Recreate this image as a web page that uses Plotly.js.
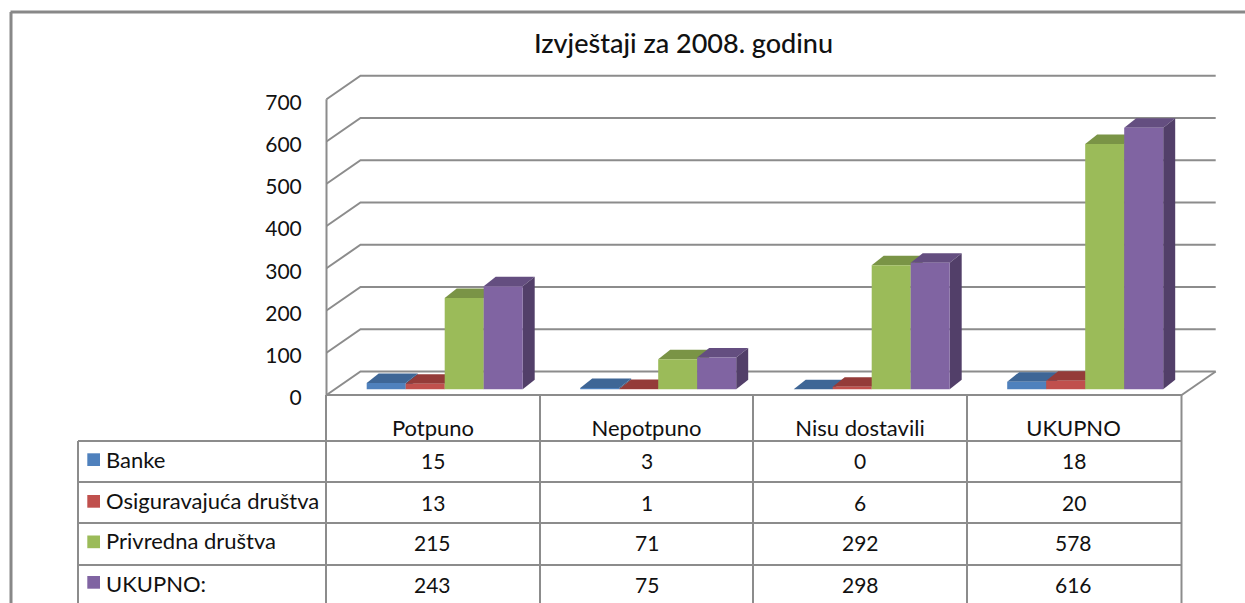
<!DOCTYPE html>
<html><head><meta charset="utf-8">
<script src="https://cdn.plot.ly/plotly-3.0.1.min.js"></script>
<style>html,body{margin:0;padding:0;background:#fff;overflow:hidden}</style></head>
<body><div id="chart" style="width:1245px;height:603px"></div>
<script>
const categories = ["Potpuno", "Nepotpuno", "Nisu dostavili", "UKUPNO"];
const seriesNames = ["Banke", "Osiguravajuća društva", "Privredna društva", "UKUPNO:"];
const banke = [15, 3, 0, 18];
const osiguravajuca = [13, 1, 6, 20];
const privredna = [215, 71, 292, 578];
const ukupno = [243, 75, 298, 616];
const yTicks = [0, 100, 200, 300, 400, 500, 600, 700];
const frontColors = ["#4F81BD", "#C0504D", "#9BBB59", "#8064A2"];
const topColors = ["#3E6696", "#943B39", "#7A9446", "#644E80"];
const sideColors = ["#375A85", "#823432", "#6B8239", "#523F69"];

const allSeries = [banke, osiguravajuca, privredna, ukupno];
const W = 1245, H = 603, FONT = "Lato, sans-serif", GRID = "#8C8C8C", TXT = "#111";
// plot rectangle in page pixels
const L = 320, R = 1228, T = 60, B = 402;
// category scale
const CAT0 = 433, CATW = 213.5;
// wall scale
const WALL0 = 395, WALLK = 0.4225, BACKX = 34, BACKY = 23.5;
// bar plane scale
const BAR0 = 389.3, BARK = 0.4245, DEPTHX = 12, DEPTHY = 9.5;
const BARW = 39 / CATW, BARSTART = (366.7 - CAT0) / CATW;
const dxU = DEPTHX / CATW, dyU = DEPTHY / BARK;
const backXU = BACKX / CATW, backYU = BACKY / WALLK;
const xAt = p => (p - CAT0) / CATW;
const px = p => p / W, py = p => 1 - p / H;

const shapes = [];
const lineShape = (x0, y0, x1, y1, w, c) => shapes.push({type: "line", layer: "below", xref: "paper", yref: "paper",
  x0: px(x0), y0: py(y0), x1: px(x1), y1: py(y1), line: {color: c || GRID, width: w || 2}});

// outer frame
lineShape(10.5, 12, W, 12, 3, "#888");
lineShape(11, 12, 11, H, 3, "#888");

// wall and floor, in axis units
const x0W = xAt(326.5), x1W = xAt(1181.7);
yTicks.forEach(v => {
  shapes.push({type: "path", layer: "below", xref: "x", yref: "y",
    path: `M${x0W},${v} L${x0W + backXU},${v + backYU} L${x1W + backXU},${v + backYU}`,
    line: {color: GRID, width: 2}});
});
shapes.push({type: "line", layer: "below", xref: "x", yref: "y", x0: x0W, x1: x0W, y0: 0, y1: 700, line: {color: GRID, width: 2}});
shapes.push({type: "line", layer: "below", xref: "x", yref: "y", x0: x1W, x1: x1W + backXU, y0: 0, y1: backYU, line: {color: GRID, width: 2}});

// table rules
const rows = [441, 482, 523, 565];
lineShape(326, 395, 1182, 395);
rows.forEach(r => lineShape(78, r, 1182, r));
lineShape(78, 441, 78, H);
[326, 540, 753, 967, 1181.5].forEach(c => lineShape(c, 395, c, H));

// 3D faces of the bars, derived from the values
allSeries.forEach((vals, s) => {
  vals.forEach((v, i) => {
    const a = i + BARSTART + s * BARW, b = a + BARW;
    shapes.push({type: "path", layer: "below", xref: "x", yref: "y2", line: {width: 0}, fillcolor: topColors[s],
      path: `M${a},${v} L${a + dxU},${v + dyU} L${b + dxU},${v + dyU} L${b},${v} Z`});
    shapes.push({type: "path", layer: "below", xref: "x", yref: "y2", line: {width: 0}, fillcolor: sideColors[s],
      path: `M${b},0 L${b + dxU},${dyU} L${b + dxU},${v + dyU} L${b},${v} Z`});
  });
});

// legend keys
const keyY = [453.3, 495, 535.5, 576];
frontColors.forEach((c, s) => shapes.push({type: "rect", layer: "below", xref: "paper", yref: "paper",
  x0: px(87.3), x1: px(100), y0: py(keyY[s]), y1: py(keyY[s] + 12.7), fillcolor: c, line: {width: 0}}));

// table text
const annotations = [];
const rowY = [460.5, 502, 542.5, 584.5];
const nameY = [459, 500, 540, 583];
const nameFont = {family: FONT, size: 22, color: TXT};
const numFont = {family: FONT, size: 21, color: TXT};
seriesNames.forEach((n, s) => {
  annotations.push({xref: "paper", yref: "paper", x: px(103.5), y: py(nameY[s]), text: n, showarrow: false, xanchor: "left", yanchor: "middle", font: nameFont});
  allSeries[s].forEach((v, i) => annotations.push({xref: "x", yref: "paper", x: i, y: py(rowY[s]), text: String(v), showarrow: false, xanchor: "center", yanchor: "middle", font: numFont}));
});

const traces = allSeries.map((vals, s) => ({
  type: "bar", name: seriesNames[s], x: [0, 1, 2, 3], y: vals, yaxis: "y2",
  width: BARW, offset: BARSTART + s * BARW,
  marker: {color: frontColors[s], line: {width: 0}}, showlegend: false, hoverinfo: "name+y"
}));
// keeps the wall axis on the same subplot
traces.unshift({type: "scatter", mode: "none", x: [0], y: [0], xaxis: "x", yaxis: "y", showlegend: false, hoverinfo: "skip"});

const layout = {
  width: W, height: H, margin: {l: 0, r: 0, t: 0, b: 0}, paper_bgcolor: "#fff", plot_bgcolor: "rgba(0,0,0,0)",
  showlegend: false, barmode: "overlay", shapes, annotations,
  title: {text: "Izvještaji za 2008. godinu", xref: "paper", yref: "paper", x: px(683.5), xanchor: "center", y: py(44), yanchor: "middle",
    font: {family: FONT, size: 27, weight: 500, color: TXT}, pad: {t: 0, b: 0, l: 0, r: 0}},
  xaxis: {domain: [px(L), px(R)], range: [xAt(L), xAt(R)], anchor: "y", tickmode: "array", tickvals: [0, 1, 2, 3], ticktext: categories,
    showgrid: false, zeroline: false, showline: false, ticks: "outside", ticklen: 7, tickcolor: "rgba(0,0,0,0)", tickangle: 0,
    tickfont: {family: FONT, size: 22, color: TXT}, fixedrange: true},
  yaxis: {domain: [py(B), py(T)], range: [(WALL0 - B) / WALLK, (WALL0 - T) / WALLK], anchor: "x", tickmode: "array", tickvals: yTicks,
    showgrid: false, zeroline: false, showline: false, ticks: "outside", ticklen: 13, tickcolor: "rgba(0,0,0,0)", ticklabelshift: 3,
    tickfont: {family: FONT, size: 21, color: TXT}, fixedrange: true},
  yaxis2: {domain: [py(B), py(T)], range: [(BAR0 - B) / BARK, (BAR0 - T) / BARK], overlaying: "y", anchor: "x", side: "left", visible: false, fixedrange: true}
};
Plotly.newPlot("chart", traces, layout, {staticPlot: true, displayModeBar: false});
</script></body></html>
